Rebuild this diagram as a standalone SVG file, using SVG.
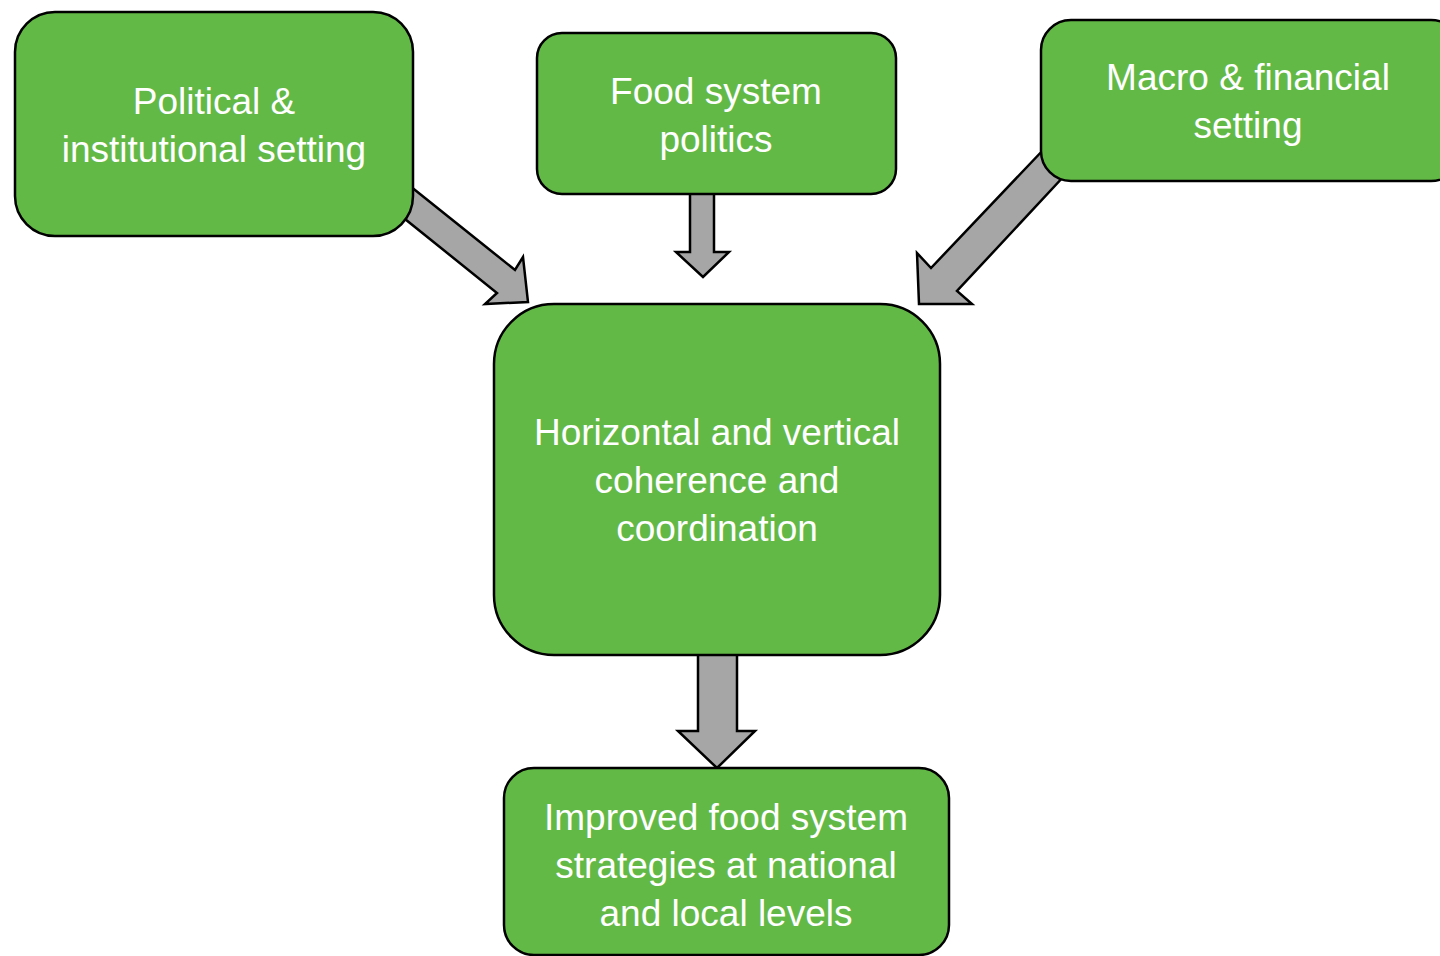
<svg xmlns="http://www.w3.org/2000/svg" width="1440" height="956" viewBox="0 0 1440 956">
<style>
.box{fill:#63B946;stroke:#000;stroke-width:2.5}
.arr{fill:#A6A6A6;stroke:#000;stroke-width:2.5;stroke-linejoin:miter}
.t{font-family:"Liberation Sans",Arial,sans-serif;font-size:37px;fill:#fff;text-anchor:middle}
</style>
<rect width="1440" height="956" fill="#fff"/>
<g id="connectors">
<polygon class="arr" points="410,186 515,270 523,257 528,302 485,304 497,293 400,215"/>
<polygon class="arr" points="690,190 714,190 714,252 729,252 703,277 676,252 690,252"/>
<polygon class="arr" points="1045,148 931,268 917,253 919,304 972,304 957,291 1065,175"/>
<polygon class="arr" points="698,653 737,653 737,731 755,731 717,768 678,731 698,731"/>
</g>
<g id="political">
<rect class="box" x="15" y="12" width="398" height="224" rx="40"/>
<text class="t" x="214" y="114">Political &amp;</text>
<text class="t" x="214" y="162">institutional setting</text>
</g>
<g id="foodpolitics">
<rect class="box" x="537" y="33" width="359" height="161" rx="25"/>
<text class="t" x="716" y="104">Food system</text>
<text class="t" x="716" y="152">politics</text>
</g>
<g id="macro">
<rect class="box" x="1041" y="20" width="420" height="161" rx="30"/>
<text class="t" x="1248" y="90">Macro &amp; financial</text>
<text class="t" x="1248" y="138">setting</text>
</g>
<g id="coherence">
<rect class="box" x="494" y="304" width="446" height="351" rx="60"/>
<text class="t" x="717" y="445">Horizontal and vertical</text>
<text class="t" x="717" y="493">coherence and</text>
<text class="t" x="717" y="541">coordination</text>
</g>
<g id="improved">
<rect class="box" x="504" y="768" width="445" height="187" rx="30"/>
<text class="t" x="726" y="830">Improved food system</text>
<text class="t" x="726" y="878">strategies at national</text>
<text class="t" x="726" y="926">and local levels</text>
</g>
</svg>
